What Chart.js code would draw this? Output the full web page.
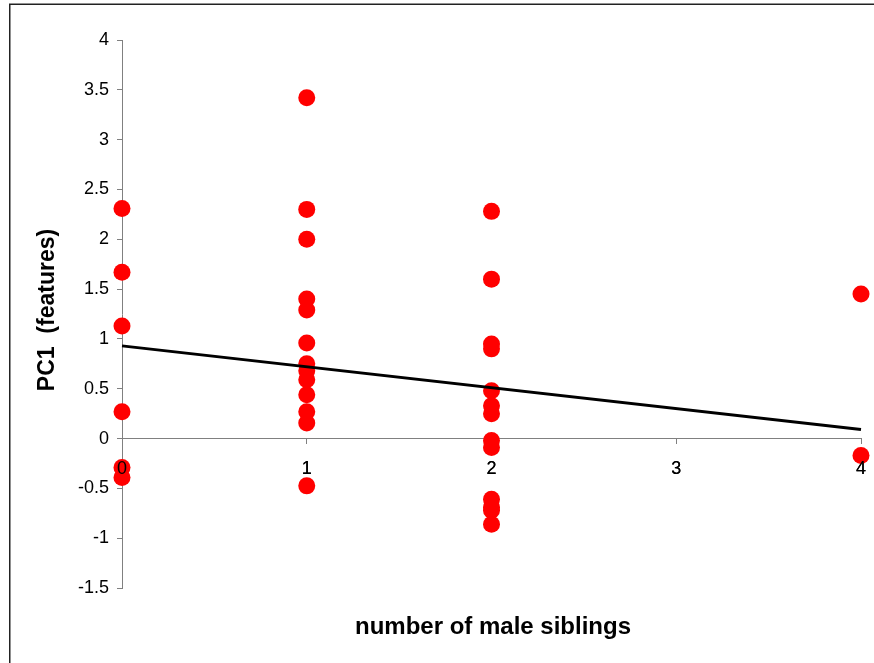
<!DOCTYPE html>
<html>
<head>
<meta charset="utf-8">
<script src="https://cdn.jsdelivr.net/npm/chart.js@4.4.1/dist/chart.umd.min.js"></script>
<style>
  html, body { margin: 0; padding: 0; background: #fff; }
  #wrap { width: 874px; height: 663px; position: relative; }
</style>
</head>
<body>
<div id="wrap"><canvas id="c"></canvas></div>
<script>
// ---- data ----
const siblings = [
  0, 0, 0, 0, 0, 0,
  1, 1, 1, 1, 1, 1, 1, 1, 1, 1, 1, 1, 1,
  2, 2, 2, 2, 2, 2, 2, 2, 2, 2, 2, 2, 2,
  4, 4
];
const pc1 = [
  2.31, 1.67, 1.13, 0.27, -0.29, -0.39,
  3.42, 2.30, 2.00, 1.40, 1.29, 0.96, 0.75, 0.68, 0.59, 0.44, 0.27, 0.155, -0.475,
  2.28, 1.60, 0.95, 0.90, 0.48, 0.33, 0.25, -0.02, -0.09, -0.61, -0.69, -0.72, -0.86,
  1.45, -0.17
];
const trendX = [0, 4];
const trendY = [0.93, 0.09];
const xTitle = 'number of male siblings';
const yTitle = 'PC1  (features)';

const FONT = "'Liberation Sans', Arial, sans-serif";

const points = siblings.map((x, i) => ({ x: x, y: pc1[i] }));
const trend = trendX.map((x, i) => ({ x: x, y: trendY[i] }));

const decor = {
  id: 'decor',
  beforeDraw(chart) {
    const ctx = chart.ctx;
    ctx.save();
    ctx.strokeStyle = '#222';
    ctx.lineWidth = 1.5;
    ctx.strokeRect(9.75, 4.25, 2000, 2000);
    ctx.restore();
  },
  afterDatasetsDraw(chart) {
    // x tick labels sit on top of the markers, as in the reference
    const xs = chart.scales.x;
    if (xs && xs.drawLabels) xs.drawLabels(chart.chartArea);
  },
  afterDraw(chart) {
    const ctx = chart.ctx;
    ctx.save();
    ctx.fillStyle = '#000';
    ctx.textAlign = 'center';
    ctx.textBaseline = 'alphabetic';
    ctx.font = "bold 24px " + FONT;
    ctx.fillText(xTitle, 493, 634);
    ctx.font = "bold 23px " + FONT;
    ctx.translate(54, 310);
    ctx.rotate(-Math.PI / 2);
    ctx.fillText(yTitle, 0, 0);
    ctx.restore();
  }
};

new Chart(document.getElementById('c'), {
  type: 'scatter',
  data: {
    datasets: [
      {
        type: 'line',
        data: trend,
        borderColor: '#000',
        borderWidth: 3,
        pointRadius: 0,
        fill: false,
        order: 0,
        clip: false
      },
      {
        type: 'scatter',
        data: points,
        backgroundColor: '#ff0000',
        borderWidth: 0,
        pointRadius: 8.5,
        pointHoverRadius: 8.5,
        order: 1,
        clip: false
      }
    ]
  },
  options: {
    responsive: true,
    maintainAspectRatio: false,
    animation: false,
    events: [],
    layout: { padding: { left: 0, right: 13, top: 40, bottom: 75 } },
    plugins: { legend: { display: false }, tooltip: { enabled: false } },
    scales: {
      x: {
        type: 'linear',
        position: { y: 0 },
        min: 0, max: 4,
        ticks: { stepSize: 1, color: '#000', font: { size: 18, family: FONT }, padding: 15, maxRotation: 0 },
        grid: { display: true, drawOnChartArea: false, drawTicks: true, tickLength: 5, color: '#808080' },
        border: { display: true, color: '#808080', width: 1 },
        afterFit: s => { s.paddingLeft = 0; s.paddingRight = 0; }
      },
      y: {
        type: 'linear',
        position: 'left',
        min: -1.5, max: 4,
        ticks: { stepSize: 0.5, color: '#000', font: { size: 18, family: FONT }, padding: 8, callback: v => String(v) },
        grid: { display: true, drawOnChartArea: false, drawTicks: true, tickLength: 5, color: '#808080' },
        border: { display: true, color: '#808080', width: 1 },
        afterFit: s => { s.width = 122; }
      }
    }
  },
  plugins: [decor]
});
</script>
</body>
</html>
